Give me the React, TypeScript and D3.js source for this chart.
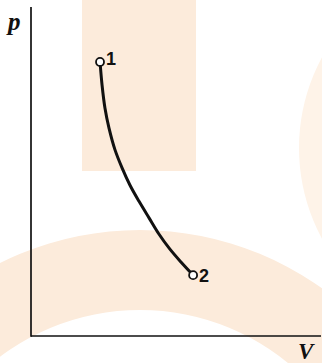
import React from 'react';
import * as d3 from 'd3';

// process curve (V, p in arbitrary units)
const curveV = [2.38, 2.45, 2.55, 2.69, 2.9, 3.14, 3.41, 3.72, 4.07, 4.41, 4.79, 5.17, 5.59];
const curveP = [8.33, 7.63, 6.93, 6.32, 5.65, 5.11, 4.59, 4.1, 3.59, 3.1, 2.64, 2.25, 1.85];

// state points
const stateLabels = ['1', '2'];
const stateV = [2.38, 5.59];
const stateP = [8.33, 1.85];

const axisLabels = { x: 'V', y: 'p' };

const W = 322;
const H = 363;

const App = () => {
  // scales
  const x = d3.scaleLinear().domain([0, 10]).range([31, 321]);
  const y = d3.scaleLinear().domain([0, 10]).range([336, 7]);

  const pts = curveV.map((v, i) => [v, curveP[i]] as [number, number]);
  const line = d3
    .line<[number, number]>()
    .x((d) => x(d[0]))
    .y((d) => y(d[1]))
    .curve(d3.curveCatmullRom.alpha(0.5));

  // background watermark pieces
  const ring = d3.arc()({
    innerRadius: 233,
    outerRadius: 313,
    startAngle: 0,
    endAngle: Math.PI * 2,
  } as any);

  const serif = "'Liberation Serif', 'DejaVu Serif', serif";
  const sans = "'Liberation Sans', Arial, sans-serif";

  return (
    <svg width={W} height={H} style={{ position: 'absolute', left: 0, top: 0, background: '#fff' }}>
      <g>
        <circle cx={490} cy={148} r={191} fill="#fef3e8" />
        <rect x={82} y={0} width={114} height={171} fill="#fcebdb" />
        <path d={ring || ''} transform="translate(140,543)" fill="#fcebdb" />
      </g>

      {/* axes */}
      <line x1={x(0)} y1={y(0)} x2={x(10)} y2={y(0)} stroke="#111" strokeWidth={1.7} />
      <line x1={x(0)} y1={y(0) + 0.8} x2={x(0)} y2={y(10)} stroke="#111" strokeWidth={1.7} />

      <text x={8} y={30} fontFamily={serif} fontWeight="bold" fontStyle="italic" fontSize={25} fill="#111">
        {axisLabels.y}
      </text>
      <text x={298} y={359} fontFamily={serif} fontWeight="bold" fontStyle="italic" fontSize={23} fill="#111">
        {axisLabels.x}
      </text>

      {/* process line */}
      <path d={line(pts) || ''} fill="none" stroke="#111" strokeWidth={3} strokeLinecap="round" />

      {stateLabels.map((lab, i) => (
        <g key={lab}>
          <circle cx={x(stateV[i])} cy={y(stateP[i])} r={4} fill="#fff" stroke="#111" strokeWidth={1.8} />
          <text
            x={x(stateV[i]) + 6}
            y={y(stateP[i]) + (i === 0 ? 3 : 7)}
            fontFamily={sans}
            fontWeight="bold"
            fontSize={18}
            fill="#111"
          >
            {lab}
          </text>
        </g>
      ))}
    </svg>
  );
};

export default App;
